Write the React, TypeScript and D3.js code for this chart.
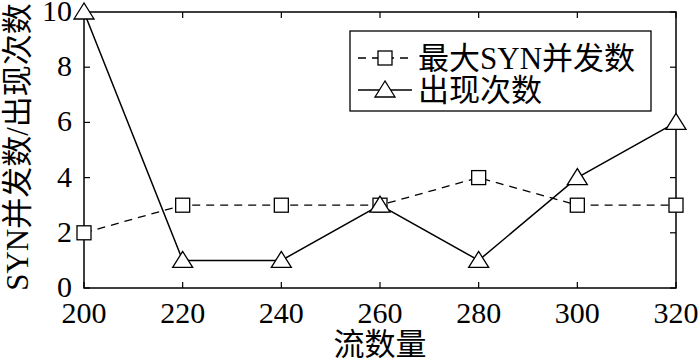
import * as d3 from 'd3';

// chart data
const flows = [200, 220, 240, 260, 280, 300, 320];
const maxSyn = [2, 3, 3, 3, 4, 3, 3];
const occurrences = [10, 1, 1, 3, 1, 4, 6];
const xTicks = [200, 220, 240, 260, 280, 300, 320];
const yTicks = [0, 2, 4, 6, 8, 10];
const seriesNames = ['最大SYN并发数', '出现次数'];

const W = 700;
const H = 362;
const M = { left: 84, right: 24, top: 12, bottom: 74 };
const serif = "'Liberation Serif', 'Noto Sans CJK SC', serif";

function Square({ x, y }: { x: number; y: number }) {
	return <rect x={x - 7} y={y - 7} width={14} height={14} fill="white" stroke="black" strokeWidth={1.3} />;
}

function Triangle({ x, y }: { x: number; y: number }) {
	const p = `${x},${y - 9} ${x - 10},${y + 7} ${x + 10},${y + 7}`;
	return <polygon points={p} fill="white" stroke="black" strokeWidth={1.3} />;
}

export default function App() {
	const x = d3.scaleLinear().domain([200, 320]).range([M.left, W - M.right]);
	const y = d3.scaleLinear().domain([0, 10]).range([H - M.bottom, M.top]);
	const line = d3
		.line<number>()
		.x((_, i) => x(flows[i]))
		.y((d) => y(d));

	const x0 = x.range()[0];
	const x1 = x.range()[1];
	const y0 = y.range()[0];
	const y1 = y.range()[1];

	return (
		<svg width={W} height={H} fontFamily={serif} style={{ position: 'absolute', left: 0, top: 0, background: 'white' }}>
			<rect x={x0} y={y1} width={x1 - x0} height={y0 - y1} fill="none" stroke="black" strokeWidth={1.5} />
			{xTicks.map((t) => (
				<g key={'x' + t}>
					<line x1={x(t)} x2={x(t)} y1={y0} y2={y0 - 6} stroke="black" strokeWidth={1.2} />
					<line x1={x(t)} x2={x(t)} y1={y1} y2={y1 + 6} stroke="black" strokeWidth={1.2} />
					<text x={x(t)} y={y0 + 35} textAnchor="middle" fontSize={30}>
						{t}
					</text>
				</g>
			))}
			{yTicks.map((t) => (
				<g key={'y' + t}>
					<line x1={x0} x2={x0 + 6} y1={y(t)} y2={y(t)} stroke="black" strokeWidth={1.2} />
					<line x1={x1} x2={x1 - 6} y1={y(t)} y2={y(t)} stroke="black" strokeWidth={1.2} />
					<text x={x0 - 12} y={y(t) + 9} textAnchor="end" fontSize={30}>
						{t}
					</text>
				</g>
			))}
			<text x={380} y={H - 7} textAnchor="middle" fontSize={31}>
				流数量
			</text>
			<text transform={`translate(28,${(y0 + y1) / 2 - 3}) rotate(-90)`} textAnchor="middle" fontSize={31}>
				SYN并发数/出现次数
			</text>

			<path d={line(maxSyn) || ''} fill="none" stroke="black" strokeWidth={1.3} strokeDasharray="8,6" />
			<path d={line(occurrences) || ''} fill="none" stroke="black" strokeWidth={1.5} />
			{maxSyn.map((v, i) => (
				<Square key={'s' + i} x={x(flows[i])} y={y(v)} />
			))}
			{occurrences.map((v, i) => (
				<Triangle key={'t' + i} x={x(flows[i])} y={y(v)} />
			))}

			{/* legend */}
			<rect x={350} y={31} width={301} height={80} fill="white" stroke="black" strokeWidth={1.3} />
			<line x1={358} x2={412} y1={58} y2={58} stroke="black" strokeWidth={1.3} strokeDasharray="8,6" />
			<Square x={385} y={58} />
			<text x={418} y={69} fontSize={31}>
				{seriesNames[0]}
			</text>
			<line x1={358} x2={412} y1={90} y2={90} stroke="black" strokeWidth={1.5} />
			<Triangle x={385} y={90} />
			<text x={418} y={101} fontSize={31}>
				{seriesNames[1]}
			</text>
		</svg>
	);
}
